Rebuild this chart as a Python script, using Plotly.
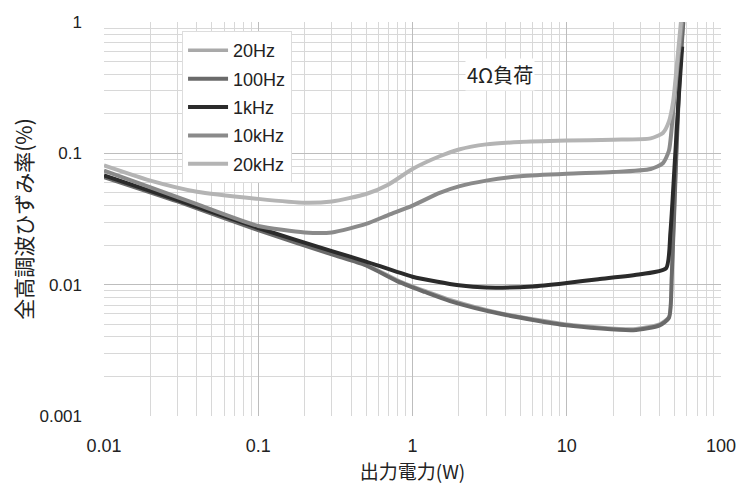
import plotly.graph_objects as go

# Output power (W) and THD (%)
p_20k = [0.01, 0.02, 0.04, 0.1, 0.2, 0.3, 0.5, 0.7, 1.0, 1.5, 2, 3, 5, 10, 20, 35, 42, 46, 49, 52, 55]
t_20k = [0.081, 0.062, 0.051, 0.045, 0.042, 0.043, 0.049, 0.058, 0.076, 0.095, 0.107, 0.117, 0.122, 0.125, 0.127, 0.13, 0.143, 0.175, 0.25, 0.5, 1.0]

p_10k = [0.01, 0.02, 0.04, 0.1, 0.2, 0.3, 0.5, 0.7, 1.0, 1.5, 2, 3, 5, 10, 20, 35, 42, 46, 49, 53, 56]
t_10k = [0.074, 0.055, 0.041, 0.028, 0.025, 0.025, 0.029, 0.034, 0.04, 0.05, 0.056, 0.062, 0.067, 0.07, 0.072, 0.076, 0.084, 0.105, 0.21, 0.55, 1.0]

p_1k = [0.01, 0.03, 0.1, 0.3, 0.5, 1.0, 2, 3, 6, 10, 16, 30, 44, 47, 50, 53, 56]
t_1k = [0.068, 0.044, 0.027, 0.018, 0.015, 0.0115, 0.0099, 0.0095, 0.0097, 0.0103, 0.011, 0.012, 0.0133, 0.025, 0.08, 0.25, 0.65]

p_100 = [0.01, 0.03, 0.1, 0.3, 0.5, 0.83, 1.2, 1.75, 3.7, 10, 27, 40, 46, 48, 51, 54, 57]
t_100 = [0.066, 0.043, 0.026, 0.017, 0.014, 0.0104, 0.0088, 0.0075, 0.006, 0.0049, 0.0045, 0.0049, 0.0056, 0.012, 0.08, 0.4, 1.0]

p_20 = [0.01, 0.03, 0.1, 0.3, 0.5, 0.83, 1.2, 1.75, 3.7, 10, 27, 40, 46, 48, 51, 54, 57]
t_20 = [0.067, 0.044, 0.0265, 0.0172, 0.0142, 0.0106, 0.009, 0.0077, 0.0061, 0.005, 0.0046, 0.005, 0.0057, 0.012, 0.08, 0.4, 1.0]

x_ticks = [0.01, 0.1, 1, 10, 100]
x_labels = ["0.01", "0.1", "1", "10", "100"]
y_ticks = [0.001, 0.01, 0.1, 1]
y_labels = ["0.001", "0.01", "0.1", "1"]

series = [
    ("20Hz", p_20, t_20, "#a9a9a9", 3.5),
    ("100Hz", p_100, t_100, "#6a6a6a", 4),
    ("1kHz", p_1k, t_1k, "#2b2b2b", 4),
    ("10kHz", p_10k, t_10k, "#8a8a8a", 4),
    ("20kHz", p_20k, t_20k, "#b4b4b4", 4),
]


def minor_vals(decades):
    return [m * d for d in decades[:-1] for m in range(2, 10)]


x_minor = minor_vals(x_ticks)
y_minor = minor_vals(y_ticks)

fig = go.Figure()
for i, (name, xs, ys, col, w) in enumerate(series):
    fig.add_trace(go.Scatter(
        x=xs, y=ys, mode="lines", name=name, legendgroup=f"g{i}",
        line=dict(color=col, width=w, shape="spline", smoothing=0.6),
    ))

font_main = "Liberation Sans, Arial, Noto Sans CJK JP"
cjk = "Noto Sans CJK JP"
# page body has an 8px default margin, so the figure is 8px smaller
fig.update_layout(
    width=736, height=476,
    margin=dict(l=96, r=23, t=14, b=68, autoexpand=False),
    paper_bgcolor="white", plot_bgcolor="white",
    font=dict(family=font_main, size=18, color="#222"),
    showlegend=True,
    legend=dict(
        x=0.1265, y=0.977, xanchor="left", yanchor="top",
        bgcolor="white", bordercolor="#dddddd", borderwidth=1,
        font=dict(size=18, color="#222"),
        traceorder="grouped", tracegroupgap=2,
        itemwidth=40,
    ),
    xaxis=dict(
        type="log", range=[-2, 2], automargin=False,
        tickmode="array", tickvals=x_ticks, ticktext=x_labels,
        showgrid=True, gridcolor="#bdbdbd", gridwidth=1,
        minor=dict(tickmode="array", tickvals=x_minor, showgrid=True, gridcolor="#d8d8d8", gridwidth=1, ticks=""),
        zeroline=False, showline=False, ticks="",
        ticklabelstandoff=17,
        tickfont=dict(size=18),
        title=dict(text="出力電力(W)", font=dict(family=cjk, size=19, color="#222"), standoff=15),
    ),
    yaxis=dict(
        type="log", range=[-3, 0], automargin=False,
        tickmode="array", tickvals=y_ticks, ticktext=y_labels,
        showgrid=True, gridcolor="#bdbdbd", gridwidth=1,
        minor=dict(tickmode="array", tickvals=y_minor, showgrid=True, gridcolor="#d8d8d8", gridwidth=1, ticks=""),
        zeroline=False, showline=False, ticks="",
        ticklabelstandoff=21,
        tickfont=dict(size=17),
        title=dict(text="全高調波ひずみ率(%)", font=dict(family=cjk, size=21, color="#222"), standoff=5),
    ),
    annotations=[dict(
        x=0.642, y=0.868, xref="paper", yref="paper", xanchor="center", yanchor="middle",
        text="4Ω負荷", showarrow=False,
        font=dict(family=cjk, size=20, color="#222"),
        bgcolor="white",
    )],
)

fig.write_html("out.html")
